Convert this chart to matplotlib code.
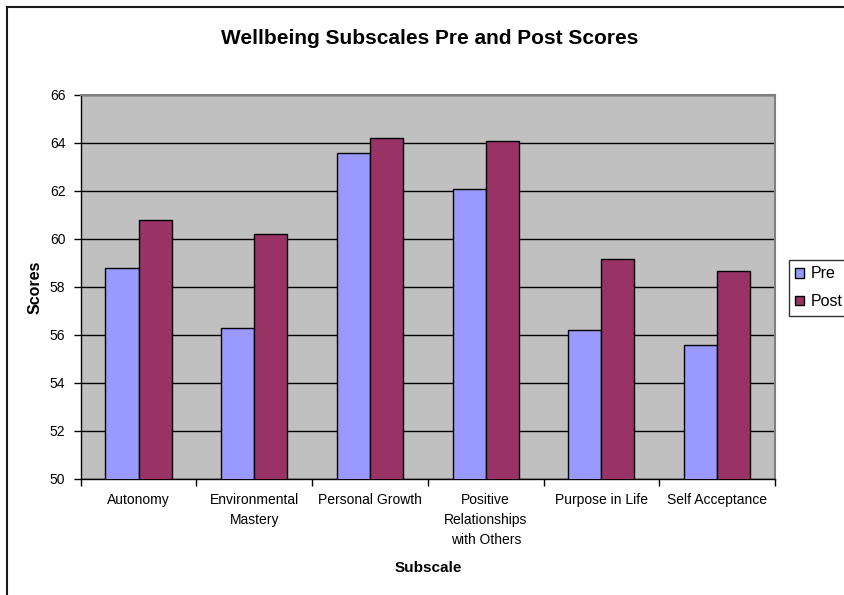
import numpy as np
import matplotlib.pyplot as plt
from matplotlib.lines import Line2D
from matplotlib.patches import Patch

plt.rcParams['font.family'] = ['Liberation Sans', 'DejaVu Sans']

# Data
subscales = ['Autonomy', 'Environmental\nMastery', 'Personal Growth',
             'Positive\nRelationships\nwith Others', 'Purpose in Life',
             'Self Acceptance']
pre = [58.8, 56.3, 63.6, 62.1, 56.2, 55.6]
post = [60.8, 60.2, 64.2, 64.1, 59.15, 58.65]

pre_color = '#9999FF'
post_color = '#993366'

W, H = 845, 595
fig = plt.figure(figsize=(W / 100, H / 100), dpi=100)
# plot area in pixels: left 80.7, right 775, top 95, bottom 479
ax_l, ax_r, ax_t, ax_b = 80.7, 775, 95, 479
ax = fig.add_axes([ax_l / W, 1 - ax_b / H, (ax_r - ax_l) / W, (ax_b - ax_t) / H])
ax.set_facecolor('#C0C0C0')

x = np.arange(len(subscales))
w = 1 / 3.5
ax.bar(x - w / 2, pre, w, color=pre_color, edgecolor='black',
       linewidth=1, zorder=3, label='Pre')
ax.bar(x + w / 2, post, w, color=post_color, edgecolor='black',
       linewidth=1, zorder=3, label='Post')

ax.set_xlim(-0.5, len(subscales) - 0.5)
ax.set_ylim(50, 66)
ax.set_yticks(np.arange(50, 67, 2))
ax.yaxis.grid(True, color='black', linewidth=1, zorder=1)
ax.set_axisbelow(True)

ax.set_xticks(x)
ax.set_xticklabels(subscales, fontsize=10, linespacing=1.56)
ax.set_xticks(np.arange(-0.5, len(subscales), 1), minor=True)
ax.tick_params(axis='x', which='major', length=0, pad=10)
ax.tick_params(axis='x', which='minor', length=5, width=1, direction='out')
ax.tick_params(axis='y', length=5, width=1, direction='out', labelsize=10, pad=6)

for side in ['top', 'right']:
    ax.spines[side].set_color('#808080')
    ax.spines[side].set_linewidth(1.5)
for side in ['left', 'bottom']:
    ax.spines[side].set_color('black')
    ax.spines[side].set_linewidth(1)

fig.text(430 / W, 1 - 38 / H, 'Wellbeing Subscales Pre and Post Scores',
         fontsize=15, fontweight='bold', ha='center', va='center')

ax.set_ylabel('Scores', fontsize=11.5, fontweight='bold', va='center', ha='center')
ax.yaxis.set_label_coords((35 - ax_l) / (ax_r - ax_l), 0.5)
ax.set_xlabel('Subscale', fontsize=11, fontweight='bold', va='center', ha='center')
ax.xaxis.set_label_coords(0.5, -(568 - ax_b) / (ax_b - ax_t))

handles = [Patch(facecolor=pre_color, edgecolor='black', linewidth=1),
           Patch(facecolor=post_color, edgecolor='black', linewidth=1)]
leg = fig.legend(handles, ['Pre', 'Post'], loc='upper left',
                 bbox_to_anchor=(789 / W, 1 - 260 / H), fontsize=11.5,
                 frameon=True, fancybox=False, handlelength=0.55,
                 handleheight=0.55, handletextpad=0.4, borderpad=0.4,
                 labelspacing=0.8, borderaxespad=0)
leg.get_frame().set_edgecolor('black')
leg.get_frame().set_linewidth(1)

# Chart border (left and top edges)
fig.add_artist(Line2D([6.8 / W, 6.8 / W], [0, 1 - 6.5 / H],
                      transform=fig.transFigure, color='#1a1a1a', linewidth=1.5))
fig.add_artist(Line2D([6.8 / W, 1], [1 - 6.5 / H, 1 - 6.5 / H],
                      transform=fig.transFigure, color='#1a1a1a', linewidth=1.5))

fig.savefig('out.png', dpi=100)
